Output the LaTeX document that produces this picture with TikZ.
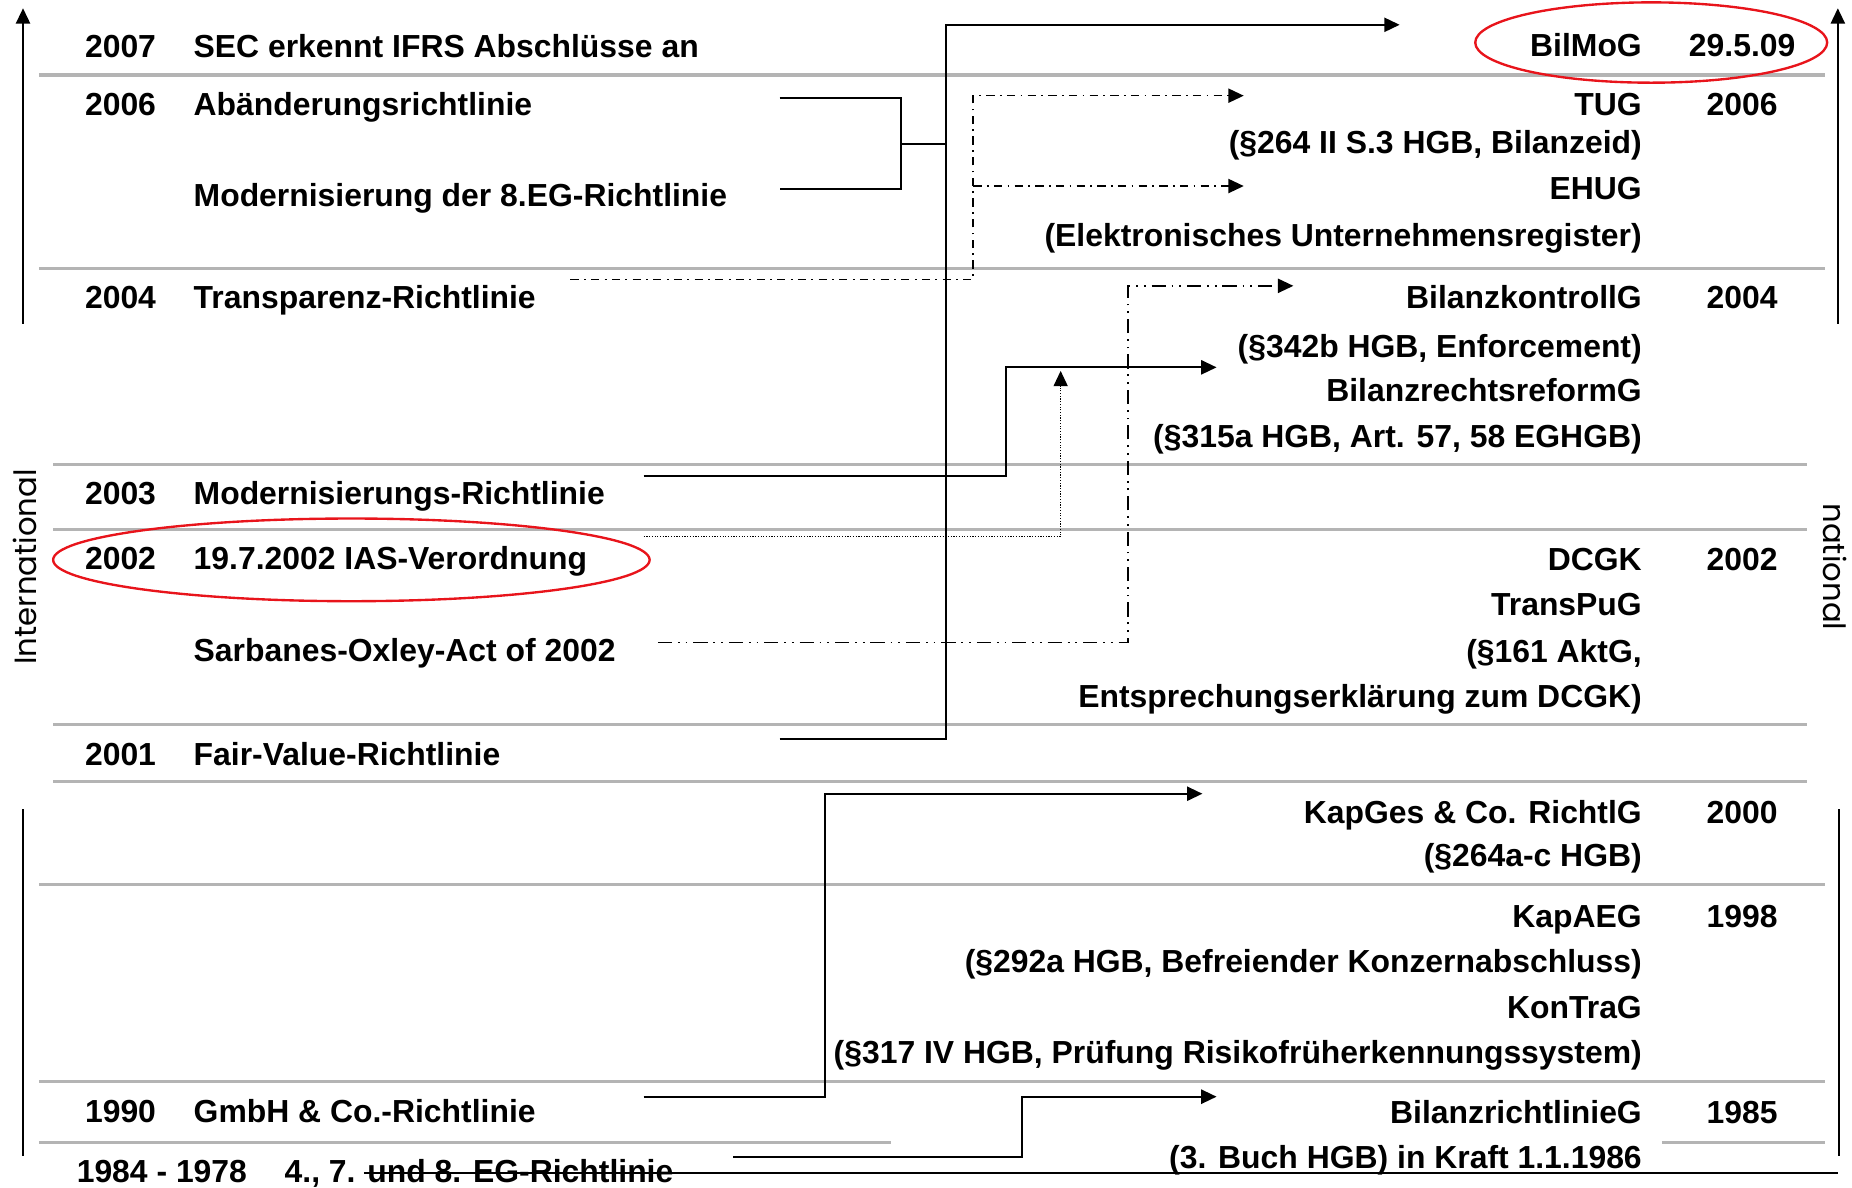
\documentclass[tikz,border=0pt]{standalone}
\usepackage{fontspec}
\setmainfont{Liberation Sans}
\newfontfamily\geofont{Poppins}
\usetikzlibrary{arrows.meta}
\definecolor{sepgray}{HTML}{B4B4B4}
\definecolor{ovalred}{HTML}{E8141B}
\begin{document}
\begin{tikzpicture}[x=1pt,y=-1pt,
  every node/.style={inner sep=0pt, outer sep=0pt, font=\fontsize{27}{32}\selectfont\bfseries},
  lefttxt/.style={anchor=base west},
  righttxt/.style={anchor=base east},
  yeartxt/.style={anchor=base},
  sidetxt/.style={font=\geofont\fontsize{26}{30}\selectfont},
  sepline/.style={draw=sepgray, line width=2.6pt},
  conn/.style={line width=1.6pt},
  arr/.style={-{Triangle[length=13pt,width=12pt]}},
  dashdot/.style={line width=1.3pt, dash pattern=on 7pt off 4.5pt on 1.5pt off 4.5pt},
  dashdotdot/.style={line width=1.3pt, dash pattern=on 12pt off 5pt on 1.5pt off 5pt on 1.5pt off 5pt},
  finedot/.style={line width=1.1pt, dash pattern=on 1pt off 1.3pt},
  oval/.style={draw=ovalred, line width=2pt}
]
\useasboundingbox (0,0) rectangle (1568,1005);

% separators
\draw[sepline] (33,63.5) -- (1545,63.5);
\draw[sepline] (33,227.5) -- (1545,227.5);
\draw[sepline] (45,393) -- (1530,393);
\draw[sepline] (45,448) -- (1530,448);
\draw[sepline] (45,613.5) -- (1530,613.5);
\draw[sepline] (45,662) -- (1530,662);
\draw[sepline] (33,749) -- (1545,749);
\draw[sepline] (33,915.5) -- (1545,915.5);
\draw[sepline] (33,967) -- (754,967);
\draw[sepline] (1407,967) -- (1545,967);

% axes
\draw[conn, arr] (19.5,274) -- (19.5,7);
\draw[conn] (19.5,685) -- (19.5,979);
\draw[conn, arr] (1556,274) -- (1556,7);
\draw[conn] (1557,685) -- (1557,979);

% side labels
\node[sidetxt, rotate=90] (intl) at (21,480) {International};
\node[sidetxt, rotate=-90] (natl) at (1554,480) {national};

% left texts
\node[lefttxt] (y2007) at (72,49) {2007};
\node[lefttxt] (sec) at (164,49) {SEC erkennt IFRS Abschlüsse an};
\node[lefttxt] (y2006) at (72,98) {2006};
\node[lefttxt] (aend) at (164,98) {Abänderungsrichtlinie};
\node[lefttxt] (mod8) at (164,175) {Modernisierung der 8.EG-Richtlinie};
\node[lefttxt] (y2004) at (72,261) {2004};
\node[lefttxt] (transp) at (164,261) {Transparenz-Richtlinie};
\node[lefttxt] (y2003) at (72,427) {2003};
\node[lefttxt] (modri) at (164,427) {Modernisierungs-Richtlinie};
\node[lefttxt] (y2002) at (72,482) {2002};
\node[lefttxt] (ias) at (164,482) {19.7.2002 IAS-Verordnung};
\node[lefttxt] (sox) at (164,560) {Sarbanes-Oxley-Act of 2002};
\node[lefttxt] (y2001) at (72,648) {2001};
\node[lefttxt] (fair) at (164,648) {Fair-Value-Richtlinie};
\node[lefttxt] (y1990) at (72,950) {1990};
\node[lefttxt] (gmbh) at (164,950) {GmbH \& Co.-Richtlinie};
\node[lefttxt] (y1984) at (65,1001) {1984 - 1978};
\node[lefttxt] (eg) at (241,1001) {4., 7. und 8. EG-Richtlinie};

% right texts
\node[righttxt] (bilmog) at (1390,48) {BilMoG};
\node[righttxt] (tug) at (1390,97.5) {TUG};
\node[righttxt] (tugd) at (1390,130) {(§264 II S.3 HGB, Bilanzeid)};
\node[righttxt] (ehug) at (1390,168.5) {EHUG};
\node[righttxt] (ehugd) at (1390,209) {(Elektronisches Unternehmensregister)};
\node[righttxt] (bk) at (1390,261) {BilanzkontrollG};
\node[righttxt] (bkd) at (1390,303) {(§342b HGB, Enforcement)};
\node[righttxt] (brr) at (1390,340) {BilanzrechtsreformG};
\node[righttxt] (brrd) at (1390,379) {(§315a HGB, Art. 57, 58 EGHGB)};
\node[righttxt] (dcgk) at (1390,483) {DCGK};
\node[righttxt] (transpug) at (1390,521) {TransPuG};
\node[righttxt] (aktg) at (1390,560.5) {(§161 AktG,};
\node[righttxt] (entspr) at (1390,598.6) {Entsprechungserklärung zum DCGK)};
\node[righttxt] (kapges) at (1390,697) {KapGes \& Co. RichtlG};
\node[righttxt] (kapgesd) at (1390,734) {(§264a-c HGB)};
\node[righttxt] (kapaeg) at (1390,785) {KapAEG};
\node[righttxt] (kapaegd) at (1390,823) {(§292a HGB, Befreiender Konzernabschluss)};
\node[righttxt] (kontrag) at (1390,862) {KonTraG};
\node[righttxt] (kontragd) at (1390,900) {(§317 IV HGB, Prüfung Risikofrüherkennungssystem)};
\node[righttxt] (brl) at (1390,951) {BilanzrichtlinieG};
\node[righttxt] (brld) at (1390,989) {(3. Buch HGB) in Kraft 1.1.1986};

% right years
\node[yeartxt] (r2009) at (1475,48) {29.5.09};
\node[yeartxt] (r2006) at (1475,97.5) {2006};
\node[yeartxt] (r2004) at (1475,261) {2004};
\node[yeartxt] (r2002) at (1475,483) {2002};
\node[yeartxt] (r2000) at (1475,697) {2000};
\node[yeartxt] (r1998) at (1475,785) {1998};
\node[yeartxt] (r1985) at (1475,951) {1985};

% red ovals
\draw[oval] (1398,36) ellipse [x radius=149, y radius=34];
\draw[oval] (297.5,474) ellipse [x radius=252.5, y radius=35];

% connector coordinates
\coordinate (b1) at (660,83);
\coordinate (b2) at (660,160);
\coordinate (bj) at (763,122);
\coordinate (vx) at (801,122);
\coordinate (fv) at (660,626);
\coordinate (bilmogIn) at (1185,21);
\coordinate (tr) at (483,236.5);
\coordinate (trx) at (824,157.5);
\coordinate (tugIn) at (1053,81);
\coordinate (ehugIn) at (1053,157.5);
\coordinate (mr) at (545,403);
\coordinate (mrx) at (852,357);
\coordinate (brIn) at (1030,311);
\coordinate (iasOut) at (545,454.5);
\coordinate (iasIn) at (898,314);
\coordinate (soxOut) at (557,544);
\coordinate (soxx) at (955,400);
\coordinate (bkIn) at (1095,242);
\coordinate (gmOut) at (545,928.5);
\coordinate (gmx) at (698.5,800);
\coordinate (kgIn) at (1018,672);
\coordinate (egOut) at (621,979.5);
\coordinate (egx) at (865,950);
\coordinate (brlIn) at (1030,928.5);
\coordinate (strikeL) at (308,993);
\coordinate (strikeR) at (1556,993);

% connectors
\draw[conn] (b1) -| (bj) |- (b2);
\draw[conn] (bj) -- (vx);
\draw[conn, arr] (fv) -| (vx) |- (bilmogIn);
\draw[dashdot, arr] (tr) -| (trx) |- (tugIn);
\draw[dashdot, arr] (trx) -- (ehugIn);
\draw[conn, arr] (mr) -| (mrx) |- (brIn);
\draw[finedot, arr] (iasOut) -| (iasIn);
\draw[dashdotdot, arr] (soxOut) -| (soxx) |- (bkIn);
\draw[conn, arr] (gmOut) -| (gmx) |- (kgIn);
\draw[conn, arr] (egOut) -| (egx) |- (brlIn);
\draw[conn] (strikeL) -- (strikeR);
\end{tikzpicture}
\end{document}
